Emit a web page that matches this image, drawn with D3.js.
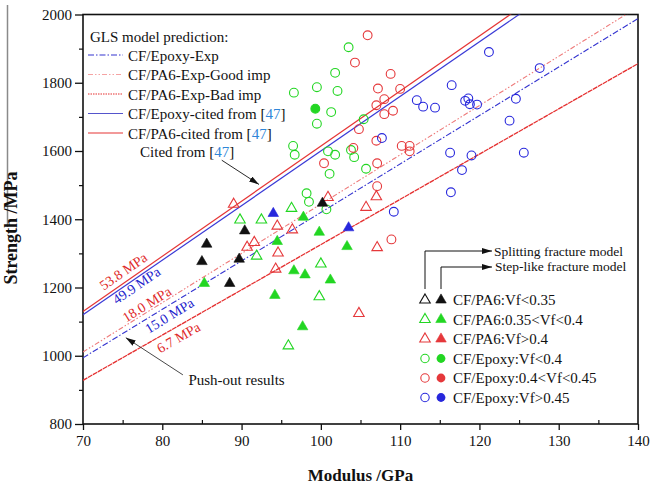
<!DOCTYPE html>
<html><head><meta charset="utf-8">
<script src="https://cdn.jsdelivr.net/npm/d3@7"></script>
<style>
body{margin:0;background:#fff}
text{font-family:"Liberation Serif","Times New Roman",serif;fill:#111}
</style>
</head><body>
<svg id="c" width="650" height="488"></svg>
<script>
// ---------- data ----------
const xTicks = [70, 80, 90, 100, 110, 120, 130, 140];
const xMinor = [75, 85, 95, 105, 115, 125, 135];
const yTicks = [800, 1000, 1200, 1400, 1600, 1800, 2000];
const yMinor = [900, 1100, 1300, 1500, 1700, 1900];

// GLS model lines: strength at modulus 70 and 140 GPa
const modelNames = ["CF/Epoxy-Exp", "CF/PA6-Exp-Good imp", "CF/PA6-Exp-Bad imp", "CF/Epoxy-cited from", "CF/PA6-cited from"];
const modelIFSS = ["15.0 MPa", "18.0 MPa", "6.7 MPa", "49.9 MPa", "53.8 MPa"];
const modelAt70 = [994, 1011, 928, 1120, 1130];
const modelAt140 = [1988, 2022, 1856, 2240, 2260];
const modelLabelE = [80.3, 78.5, 81.4, 76.3, 75.8];

// CF/PA6 (triangles)  [modulus GPa, strength MPa]
const pa6LowFilled = [[90.4,1366],[85.6,1327],[85.0,1276],[89.7,1283],[88.5,1212],[100.2,1447]];
const pa6MidOpen = [[89.8,1398],[92.5,1398],[91.9,1292],[96.3,1432],[100.0,1269],[99.8,1173],[95.9,1029]];
const pa6MidFilled = [[94.5,1335],[94.2,1177],[85.3,1212],[97.8,1406],[99.8,1362],[103.3,1320],[96.6,1249],[98.0,1237],[101.2,1222],[97.7,1085]];
const pa6HighOpen = [[89.0,1444],[94.5,1380],[91.6,1332],[90.7,1318],[94.6,1301],[94.3,1254],[100.9,1464],[107.0,1466],[105.7,1435],[96.4,1369],[107.1,1317],[104.8,1124]];
const blueFilledTri = [[94.0,1417],[103.5,1375]];

// CF/Epoxy (circles)
const epoxyLowOpen = [[103.5,1904],[101.8,1829],[99.5,1787],[96.6,1771],[102.1,1776],[101.3,1714],[99.5,1680],[105.4,1693],[96.5,1615],[96.7,1589],[100.9,1599],[101.8,1589],[103.8,1603],[104.2,1582],[105.7,1548],[101.1,1533],[98.2,1476],[98.5,1451],[100.7,1429]];
const epoxyLowFilled = [[99.3,1724]];
const epoxyMidOpen = [[105.9,1939],[104.3,1859],[108.8,1826],[107.2,1783],[110.0,1782],[108.0,1752],[107.0,1734],[108.0,1708],[109.1,1718],[104.8,1664],[107.0,1630],[110.2,1615],[111.2,1615],[111.2,1599],[104.1,1609],[100.4,1564],[107.1,1564],[107.1,1497],[108.9,1341]];
const epoxyHighOpen = [[121.2,1890],[127.6,1843],[116.5,1793],[112.1,1749],[112.9,1730],[114.4,1727],[118.2,1747],[118.6,1754],[118.8,1737],[119.7,1736],[124.6,1753],[123.8,1689],[116.3,1595],[119.0,1587],[117.8,1544],[125.6,1595],[116.4,1479],[107.7,1638],[109.2,1422]];

const legendLabels = ["CF/PA6:Vf<0.35","CF/PA6:0.35<Vf<0.4","CF/PA6:Vf>0.4","CF/Epoxy:Vf<0.4","CF/Epoxy:0.4<Vf<0.45","CF/Epoxy:Vf>0.45"];

// ---------- style ----------
const GREEN = "#22d622", RED = "#e5383b", BLUE = "#2727dc", BLK = "#111";
const modelStyle = [
  {c:"#3535d0", dash:"6,2,1.5,2", w:1.1},
  {c:"#ee7a7a", dash:"5,2,1.5,2,1.5,2", w:1.1},
  {c:"#e53030", dash:"5,0.7", w:1.3},
  {c:"#3a3ad6", dash:null, w:1.2},
  {c:"#e53535", dash:null, w:1.2}
];
const legendLineColor = ["#3535d0", "#f5a3a3", "#e53030", "#5555cc", "#e53535"];
const legendLineDash = ["6,2,1.5,2", "5,2,1.5,2,1.5,2", "1.5,1", null, null];
const labelOffset = [9, -7, 10, 6, -10];
const labelColor = ["#2222cc", "#e02828", "#e02828", "#2222cc", "#e02828"];

const svg = d3.select("#c");
const x = d3.scaleLinear().domain([70,140]).range([83,638]);
const y = d3.scaleLinear().domain([800,2000]).range([424,14.5]);

// stray gray line at far left (as in reference)
svg.append("line").attr("x1",7.5).attr("x2",7.5).attr("y1",5).attr("y2",227)
  .attr("stroke","#8a8a8a").attr("stroke-width",1.5);

svg.append("clipPath").attr("id","clip").append("rect")
  .attr("x",x(70)).attr("y",y(2000)).attr("width",x(140)-x(70)).attr("height",y(800)-y(2000));

// axes
const fontTick = "15px";
const gx = svg.append("g").attr("transform",`translate(0,${y(800)})`)
  .call(d3.axisBottom(x).tickValues(xTicks).tickSize(6).tickPadding(5).tickFormat(d3.format("d")));
gx.select(".domain").remove();
gx.selectAll("line").attr("stroke",BLK).attr("stroke-width",1.3);
gx.selectAll("text").style("font-size",fontTick).style("font-family","Liberation Serif").attr("fill",BLK);
const gxm = svg.append("g").attr("transform",`translate(0,${y(800)})`)
  .call(d3.axisBottom(x).tickValues(xMinor).tickSize(-4).tickFormat(""));
gxm.select(".domain").remove();
gxm.selectAll("line").attr("stroke",BLK).attr("stroke-width",1.2);

const gy = svg.append("g").attr("transform",`translate(${x(70)},0)`)
  .call(d3.axisLeft(y).tickValues(yTicks).tickSize(8).tickPadding(3).tickFormat(d3.format("d")));
gy.select(".domain").remove();
gy.selectAll("line").attr("stroke",BLK).attr("stroke-width",1.3);
gy.selectAll("text").style("font-size",fontTick).style("font-family","Liberation Serif").attr("fill",BLK);
const gym = svg.append("g").attr("transform",`translate(${x(70)},0)`)
  .call(d3.axisLeft(y).tickValues(yMinor).tickSize(4).tickFormat(""));
gym.select(".domain").remove();
gym.selectAll("line").attr("stroke",BLK).attr("stroke-width",1.2);

// frame
svg.append("rect").attr("x",x(70)).attr("y",y(2000)).attr("width",x(140)-x(70)).attr("height",y(800)-y(2000))
  .attr("fill","none").attr("stroke",BLK).attr("stroke-width",1.6);

// axis titles
svg.append("text").attr("x",(x(70)+x(140))/2).attr("y",481).attr("text-anchor","middle")
  .style("font-size","17px").style("font-weight","bold").text("Modulus /GPa");
svg.append("text").attr("transform",`translate(17,228) rotate(-90)`).attr("text-anchor","middle")
  .style("font-size","18px").style("font-weight","bold").text("Strength /MPa");

// model lines
const plot = svg.append("g").attr("clip-path","url(#clip)");
modelNames.forEach((n,i)=>{
  const s = modelStyle[i];
  plot.append("line").attr("x1",x(70)).attr("y1",y(modelAt70[i])).attr("x2",x(140)).attr("y2",y(modelAt140[i]))
    .attr("stroke",s.c).attr("stroke-width",s.w).attr("stroke-dasharray",s.dash);
});
// IFSS labels along lines
modelNames.forEach((n,i)=>{
  const e = modelLabelE[i];
  const sv = modelAt70[i] + (modelAt140[i]-modelAt70[i])*(e-70)/70;
  const ang = Math.atan2(y(modelAt140[i])-y(modelAt70[i]), x(140)-x(70))*180/Math.PI;
  const px = x(e), py = y(sv);
  svg.append("text").attr("transform",`translate(${px},${py}) rotate(${ang}) translate(0,${labelOffset[i]})`)
    .attr("text-anchor","middle").attr("dy","0.35em").style("font-size","14px").style("fill",labelColor[i])
    .text(modelIFSS[i]);
});

// markers
const tri = d3.symbol().type(d3.symbolTriangle).size(48);
function drawTri(data, color, filled){
  svg.append("g").selectAll("path").data(data).join("path")
    .attr("transform",d=>`translate(${x(d[0])},${y(d[1])})`).attr("d",tri)
    .attr("fill",filled?color:"none").attr("stroke",color).attr("stroke-width",filled?0.6:1.1);
}
function drawCirc(data, color, filled){
  svg.append("g").selectAll("circle").data(data).join("circle")
    .attr("cx",d=>x(d[0])).attr("cy",d=>y(d[1])).attr("r",4.4)
    .attr("fill",filled?color:"none").attr("stroke",color).attr("stroke-width",1.1);
}
drawCirc(epoxyLowOpen, GREEN, false);
drawCirc(epoxyMidOpen, RED, false);
drawCirc(epoxyHighOpen, BLUE, false);
drawCirc(epoxyLowFilled, GREEN, true);
drawTri(pa6MidOpen, GREEN, false);
drawTri(pa6HighOpen, RED, false);
drawTri(pa6MidFilled, GREEN, true);
drawTri(pa6LowFilled, BLK, true);
drawTri(blueFilledTri, BLUE, true);

// arrowheads
const defs = svg.append("defs");
defs.append("marker").attr("id","ah").attr("viewBox","0 0 10 6").attr("refX",10).attr("refY",3)
  .attr("markerWidth",10).attr("markerHeight",6).attr("markerUnits","userSpaceOnUse").attr("orient","auto")
  .append("path").attr("d","M0,0 L10,3 L0,6 Z").attr("fill",BLK);

// top-left legend
const lg = svg.append("g").style("font-size","15px");
lg.append("text").attr("x",90).attr("y",42).text("GLS model prediction:");
const legRowY = [60.5, 80, 99.5, 119, 138.5];
modelNames.forEach((name,k)=>{
  const yy = legRowY[k];
  lg.append("line").attr("x1",88).attr("x2",123).attr("y1",yy-5.5).attr("y2",yy-5.5)
    .attr("stroke",legendLineColor[k]).attr("stroke-width",1.2).attr("stroke-dasharray",legendLineDash[k]);
  const t = lg.append("text").attr("x",128).attr("y",yy);
  t.append("tspan").text(name + (k>=3 ? " [" : ""));
  if(k>=3){
    t.append("tspan").style("fill","#2f86d8").text("47");
    t.append("tspan").text("]");
  }
});

// "Cited from [47]" annotation
const ct = svg.append("text").attr("x",x(77.2)).attr("y",y(1582)).style("font-size","15px");
ct.append("tspan").text("Cited from [");
ct.append("tspan").style("fill","#2f86d8").text("47");
ct.append("tspan").text("]");
svg.append("line").attr("x1",x(87.5)).attr("y1",y(1573)).attr("x2",x(92.2)).attr("y2",y(1502))
  .attr("stroke",BLK).attr("stroke-width",0.9).attr("marker-end","url(#ah)");

// "Push-out results"
svg.append("text").attr("x",x(83.3)).attr("y",y(914)).style("font-size","15px").text("Push-out results");
svg.append("line").attr("x1",x(82.6)).attr("y1",y(944)).attr("x2",x(75.4)).attr("y2",y(1053))
  .attr("stroke","#333").attr("stroke-width",0.9).attr("marker-end","url(#ah)");

// bottom-right legend
const bl = svg.append("g");
bl.append("path").attr("d","M425,289 V251 H492").attr("fill","none").attr("stroke",BLK).attr("stroke-width",1).attr("marker-end","url(#ah)");
bl.append("path").attr("d","M441,289 V267 H492").attr("fill","none").attr("stroke",BLK).attr("stroke-width",1).attr("marker-end","url(#ah)");
bl.append("text").attr("x",494).attr("y",255.5).style("font-size","13.5px").text("Splitting fracture model");
bl.append("text").attr("x",495).attr("y",271).style("font-size","13.5px").text("Step-like fracture model");
const rowY = [300, 319.5, 339, 358.5, 378, 397.5];
const rowCol = [BLK, GREEN, RED, GREEN, RED, BLUE];
rowY.forEach((yy,i)=>{
  if(i<3){
    bl.append("path").attr("transform",`translate(425,${yy})`).attr("d",tri).attr("fill","none").attr("stroke",rowCol[i]).attr("stroke-width",1.1);
    bl.append("path").attr("transform",`translate(441,${yy})`).attr("d",tri).attr("fill",rowCol[i]).attr("stroke",rowCol[i]).attr("stroke-width",0.6);
  } else {
    bl.append("circle").attr("cx",425).attr("cy",yy).attr("r",4.2).attr("fill","none").attr("stroke",rowCol[i]).attr("stroke-width",1.1);
    bl.append("circle").attr("cx",441).attr("cy",yy).attr("r",4.4).attr("fill",rowCol[i]);
  }
  bl.append("text").attr("x",453).attr("y",yy+5).style("font-size","15px").text(legendLabels[i]);
});
</script>
</body></html>
